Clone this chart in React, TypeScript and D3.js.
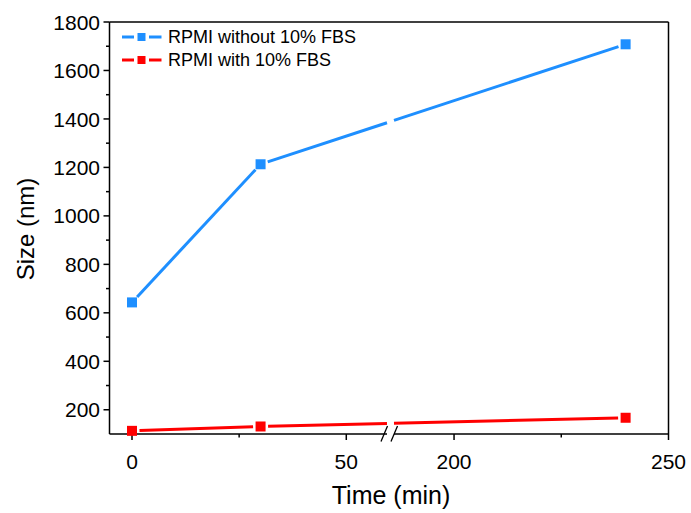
import React from "react";
import * as d3 from "d3";

const times = [0, 30, 240];
const seriesNames = ["RPMI without 10% FBS", "RPMI with 10% FBS"];
const blueValues = [643, 1213, 1708];
const redValues = [113, 131, 167];
const seriesColors = ["#1E8FFF", "#FF0000"];
const yTicks = [200, 400, 600, 800, 1000, 1200, 1400, 1600, 1800];
const yMinorTicks = [300, 500, 700, 900, 1100, 1300, 1500, 1700];
const xTicksLeft = [0, 50];
const xTicksRight = [200, 250];
const xMinorLeft = [25];
const xMinorRight = [225];

const W = 691;
const H = 513;
const L = 109.5;
const R = 668.5;
const T = 22;
const B = 434;
const gapL = 387;
const gapR = 394;
const FONT = "'Liberation Sans', Arial, Helvetica, sans-serif";

const xLeft = d3.scaleLinear().domain([-5.25, 59.5]).range([L, gapL]);
const xRight = d3.scaleLinear().domain([186, 250]).range([gapR, R]);
const xPos = (t: number) => (t <= 100 ? xLeft(t) : xRight(t));
const y = d3.scaleLinear().domain([100, 1800]).range([B, T]);

function segmentsFor(values: number[]) {
  const pts = times.map((t, i) => [xPos(t), y(values[i])] as [number, number]);
  const segs: [number, number][][] = [];
  const shrink = 7.5;
  for (let i = 0; i < pts.length - 1; i++) {
    const [x1, y1] = pts[i];
    const [x2, y2] = pts[i + 1];
    const len = Math.hypot(x2 - x1, y2 - y1);
    const ux = (x2 - x1) / len;
    const uy = (y2 - y1) / len;
    const a: [number, number] = [x1 + ux * shrink, y1 + uy * shrink];
    const b: [number, number] = [x2 - ux * shrink, y2 - uy * shrink];
    if (a[0] < gapL && b[0] > gapR) {
      const yAt = (xx: number) => a[1] + ((xx - a[0]) / (b[0] - a[0])) * (b[1] - a[1]);
      segs.push([a, [gapL, yAt(gapL)]]);
      segs.push([[gapR, yAt(gapR)], b]);
    } else {
      segs.push([a, b]);
    }
  }
  return { pts, segs };
}

const lineGen = d3.line<[number, number]>();

export default function App() {
  const series = [blueValues, redValues];
  const legendY = [37, 60];
  const xTickVals = [...xTicksLeft, ...xTicksRight];
  const xTickPx = [...xTicksLeft.map((t) => xLeft(t)), ...xTicksRight.map((t) => xRight(t))];
  return (
    <svg
      width={W}
      height={H}
      style={{ position: "absolute", left: 0, top: 0, background: "#fff" }}
      fontFamily={FONT}
    >
      <rect x={0} y={0} width={W} height={H} fill="#fff" />
      <line x1={L} x2={R} y1={T} y2={T} stroke="#000" strokeWidth={1.5} />
      <line x1={R} x2={R} y1={T} y2={B} stroke="#000" strokeWidth={1.5} />
      <line x1={L} x2={L} y1={T} y2={B} stroke="#000" strokeWidth={1.5} />
      <line x1={L} x2={gapL} y1={B} y2={B} stroke="#000" strokeWidth={1.5} />
      <line x1={gapR} x2={R} y1={B} y2={B} stroke="#000" strokeWidth={1.5} />
      <line x1={381} x2={387.5} y1={441.5} y2={426} stroke="#000" strokeWidth={1.3} />
      <line x1={391} x2={397.5} y1={441.5} y2={426} stroke="#000" strokeWidth={1.3} />
      {yTicks.map((v) => (
        <g key={"y" + v}>
          <line x1={L - 6} x2={L} y1={y(v)} y2={y(v)} stroke="#000" strokeWidth={1.5} />
          <text x={L - 9.5} y={y(v)} dy="0.36em" textAnchor="end" fontSize={21}>
            {v}
          </text>
        </g>
      ))}
      {yMinorTicks.map((v) => (
        <line key={"ym" + v} x1={L - 3.5} x2={L} y1={y(v)} y2={y(v)} stroke="#000" strokeWidth={1.5} />
      ))}
      {xTickPx.map((px, i) => (
        <g key={"x" + i}>
          <line x1={px} x2={px} y1={B} y2={B + 6} stroke="#000" strokeWidth={1.5} />
          <text x={px} y={B + 35} textAnchor="middle" fontSize={21}>
            {xTickVals[i]}
          </text>
        </g>
      ))}
      {[...xMinorLeft.map((t) => xLeft(t)), ...xMinorRight.map((t) => xRight(t))].map((px, i) => (
        <line key={"xm" + i} x1={px} x2={px} y1={B} y2={B + 3.5} stroke="#000" strokeWidth={1.5} />
      ))}
      <text x={391} y={504} textAnchor="middle" fontSize={25}>
        Time (min)
      </text>
      <text transform={`translate(34, 229) rotate(-90)`} textAnchor="middle" fontSize={24}>
        Size (nm)
      </text>
      {series.map((vals, si) => {
        const { pts, segs } = segmentsFor(vals);
        return (
          <g key={"s" + si}>
            {segs.map((s, k) => (
              <path key={k} d={lineGen(s) || ""} stroke={seriesColors[si]} strokeWidth={3} fill="none" />
            ))}
            {pts.map(([px, py], k) => (
              <rect key={"m" + k} x={px - 5} y={py - 5} width={10} height={10} fill={seriesColors[si]} />
            ))}
          </g>
        );
      })}
      {seriesNames.map((name, si) => (
        <g key={"l" + si}>
          <line x1={122} x2={134} y1={legendY[si]} y2={legendY[si]} stroke={seriesColors[si]} strokeWidth={3} />
          <line x1={149} x2={161.5} y1={legendY[si]} y2={legendY[si]} stroke={seriesColors[si]} strokeWidth={3} />
          <rect x={137.5} y={legendY[si] - 4} width={8} height={8} fill={seriesColors[si]} />
          <text x={168} y={legendY[si]} dy="0.36em" fontSize={18}>
            {name}
          </text>
        </g>
      ))}
    </svg>
  );
}
